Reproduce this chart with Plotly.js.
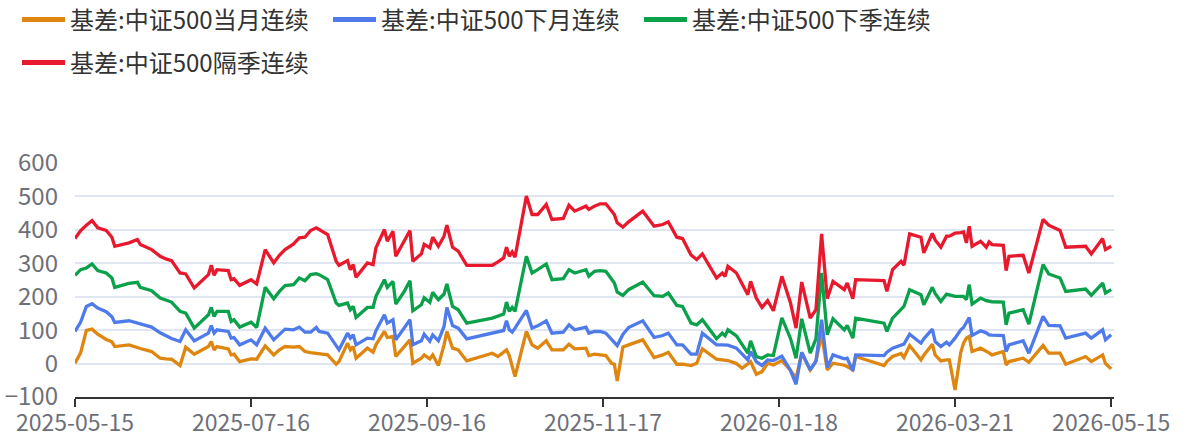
<!DOCTYPE html>
<html>
<head>
<meta charset="utf-8">
<script src="https://cdn.plot.ly/plotly-3.0.1.min.js"></script>
<style>html,body{margin:0;padding:0;background:#fff}#chart{width:1186px;height:438px}</style>
</head>
<body>
<div id="chart"></div>
<script>
var seriesNames = ['基差:中证500当月连续', '基差:中证500下月连续', '基差:中证500下季连续', '基差:中证500隔季连续'];
var seriesColors = ['#DE860F', '#4F7BEA', '#0AA14A', '#E8192D'];

var dates = [
'2025-05-15','2025-05-17','2025-05-19','2025-05-21','2025-05-23','2025-05-26','2025-05-28','2025-05-29','2025-06-03','2025-06-06',
'2025-06-07','2025-06-11','2025-06-14','2025-06-16','2025-06-18','2025-06-21','2025-06-23','2025-06-26','2025-07-01','2025-07-02',
'2025-07-03','2025-07-04','2025-07-08','2025-07-09','2025-07-10','2025-07-12','2025-07-16','2025-07-18','2025-07-21','2025-07-24',
'2025-07-26','2025-07-28','2025-07-31','2025-08-02','2025-08-04','2025-08-06','2025-08-08','2025-08-09','2025-08-12','2025-08-15',
'2025-08-16','2025-08-19','2025-08-20','2025-08-21','2025-08-22','2025-08-26','2025-08-28','2025-08-29','2025-09-01','2025-09-02',
'2025-09-04','2025-09-05','2025-09-08','2025-09-10','2025-09-11','2025-09-14','2025-09-15','2025-09-17','2025-09-18','2025-09-20',
'2025-09-22','2025-09-23','2025-09-25','2025-09-27','2025-09-30','2025-10-09','2025-10-11','2025-10-13','2025-10-14','2025-10-15',
'2025-10-16','2025-10-17','2025-10-21','2025-10-23','2025-10-25','2025-10-28','2025-10-30','2025-11-03','2025-11-05','2025-11-07',
'2025-11-11','2025-11-12','2025-11-14','2025-11-16','2025-11-18','2025-11-20','2025-11-21','2025-11-22','2025-11-24','2025-11-26',
'2025-12-01','2025-12-05','2025-12-08','2025-12-10','2025-12-13','2025-12-15','2025-12-18','2025-12-20','2025-12-22','2025-12-27',
'2025-12-29','2025-12-30','2025-12-31','2026-01-03','2026-01-05','2026-01-07','2026-01-08','2026-01-10','2026-01-12','2026-01-14',
'2026-01-16','2026-01-19','2026-01-22','2026-01-24','2026-01-26','2026-01-29','2026-01-31','2026-02-02','2026-02-04','2026-02-06',
'2026-02-10','2026-02-11','2026-02-13','2026-02-14','2026-02-24','2026-02-25','2026-02-27','2026-03-02','2026-03-03','2026-03-05',
'2026-03-09','2026-03-10','2026-03-13','2026-03-14','2026-03-16','2026-03-18','2026-03-19','2026-03-21','2026-03-23','2026-03-24',
'2026-03-25','2026-03-26','2026-03-27','2026-03-30','2026-04-01','2026-04-02','2026-04-03','2026-04-07','2026-04-08','2026-04-09',
'2026-04-14','2026-04-16','2026-04-21','2026-04-23','2026-04-27','2026-04-29','2026-05-06','2026-05-08','2026-05-12','2026-05-13',
'2026-05-15'
];

var basisCurrentMonth = [
1,33,99,103,88,72,65,51,56,46,
45,36,16,14,13,-6,49,28,51,66,
41,51,44,26,28,6,14,13,53,26,
41,51,49,51,36,33,30,28,26,-2,
6,61,41,51,16,46,34,56,96,78,
81,21,51,71,1,16,26,14,26,-6,
56,96,46,41,8,31,21,33,41,23,
-12,-39,96,56,46,68,41,41,58,44,
46,24,28,26,24,1,-2,-52,50,56,
71,18,26,34,-2,-2,-6,1,44,13,
11,10,9,0,-14,-1,6,-32,-24,1,
-4,9,-20,-44,31,-19,6,88,-19,1,
-5,-9,-19,21,-6,6,21,30,18,54,
11,25,58,26,8,11,11,-79,33,61,
76,81,36,46,38,32,26,36,-4,6,
16,4,54,31,31,-2,21,6,26,0,
-16
];

var basisNextMonth = [
96,124,171,179,166,155,140,123,128,121,
120,109,92,84,75,66,101,68,91,114,
91,101,96,76,78,56,71,56,106,71,
88,103,101,109,94,94,108,96,91,51,
41,91,76,86,56,76,74,98,146,121,
131,71,106,131,56,68,88,67,86,68,
111,168,114,106,74,92,95,99,128,101,
94,106,159,106,113,128,91,94,116,101,
109,91,96,96,91,71,62,54,87,108,
128,78,84,91,56,56,28,28,91,56,
56,56,55,46,28,11,36,6,-6,11,
9,22,-20,-62,34,-19,8,131,-12,26,
14,16,-22,26,24,34,46,54,58,88,
61,74,103,66,51,64,56,76,101,108,
123,138,84,98,92,86,85,84,36,56,
68,31,141,114,113,76,91,76,101,71,
86
];

var basisNextQuarter = [
264,281,286,298,278,271,256,228,240,243,
228,218,196,190,184,156,151,106,146,168,
141,156,156,126,131,109,124,108,228,194,
216,233,236,256,248,266,269,266,251,181,
174,181,161,171,138,168,168,201,251,228,
246,178,216,248,158,176,197,183,213,191,
208,238,171,161,121,136,141,148,184,156,
168,156,321,271,281,298,251,254,281,271,
281,261,276,278,276,251,241,214,204,221,
244,203,201,211,174,171,121,116,131,74,
91,83,101,83,56,31,68,21,16,26,
24,137,76,16,134,31,74,271,86,134,
101,114,76,136,121,96,136,160,171,221,
206,176,228,210,186,208,205,201,201,201,
191,236,178,196,188,186,185,184,116,151,
161,118,296,268,256,216,223,204,241,211,
221
];

var basisNextNextQuarter = [
374,398,414,428,406,398,378,351,361,371,
356,341,321,313,308,271,268,226,266,294,
264,281,278,251,254,234,251,238,341,301,
324,341,358,376,378,398,406,401,386,306,
294,308,281,296,258,301,296,346,401,366,
396,321,366,398,306,328,357,346,378,351,
381,414,348,336,294,294,304,316,348,321,
334,318,501,446,446,476,431,434,474,456,
471,461,471,478,478,454,446,421,408,424,
456,411,416,424,378,374,325,311,328,256,
271,261,291,271,241,206,246,196,168,188,
158,261,183,106,244,136,161,388,194,246,
221,241,194,251,248,216,281,306,294,388,
378,331,389,370,348,381,381,390,392,394,
361,411,351,366,348,364,356,354,278,321,
324,271,431,414,398,348,351,328,374,341,
351
];

var tickDates = ['2025-05-15','2025-07-16','2025-09-16','2025-11-17','2026-01-18','2026-03-21','2026-05-15'];

var seriesValues = [basisCurrentMonth, basisNextMonth, basisNextQuarter, basisNextNextQuarter];
var legendIds = ['legend', 'legend2', 'legend3', 'legend4'];

var traces = [];
for (var i = 0; i < 4; i++) {
  traces.push({
    type: 'scatter', mode: 'lines', x: dates, y: seriesValues[i],
    name: seriesNames[i], showlegend: false,
    line: {color: seriesColors[i], width: 3.3},
    hoverinfo: 'x+y+name'
  });
}
for (var j = 0; j < 4; j++) {
  traces.push({
    type: 'scatter', mode: 'lines', x: [null], y: [null],
    name: seriesNames[j], showlegend: true, legend: legendIds[j],
    line: {color: seriesColors[j], width: 5}, hoverinfo: 'skip'
  });
}

var FONT = '"Noto Sans CJK SC", "Microsoft YaHei", sans-serif';
function legendAt(xpx, ypx) {
  return {
    xref: 'container', yref: 'container',
    x: xpx / 1186, y: 1 - ypx / 438, xanchor: 'left', yanchor: 'middle',
    orientation: 'h', bgcolor: 'rgba(0,0,0,0)', borderwidth: 0,
    itemwidth: 43,
    font: {family: FONT, size: 24, color: '#333333'}
  };
}

var layout = {
  width: 1186, height: 438,
  margin: {l: 75, r: 72, t: 163, b: 41, pad: 0},
  paper_bgcolor: '#ffffff', plot_bgcolor: '#ffffff',
  font: {family: FONT, color: '#6E7079'},
  legend: legendAt(17, 20),
  legend2: legendAt(328, 20),
  legend3: legendAt(639, 20),
  legend4: legendAt(17, 63),
  xaxis: {
    type: 'date', range: ['2025-05-15', '2026-05-16'],
    tickmode: 'array', tickvals: tickDates, ticktext: tickDates,
    showgrid: false, zeroline: false,
    showline: true, linecolor: '#333333', linewidth: 2,
    ticks: 'outside', ticklen: 8, tickwidth: 2, tickcolor: '#333333',
    ticklabelstandoff: -4,
    tickfont: {family: FONT, size: 23, color: '#6E7079'},
    fixedrange: true
  },
  yaxis: {
    range: [-100, 600], tickmode: 'linear', tick0: -100, dtick: 100,
    showgrid: true, gridcolor: '#E0E6F1', gridwidth: 1.5,
    zeroline: false, showline: false, ticks: '',
    ticklabelstandoff: 16,
    tickfont: {family: FONT, size: 24, color: '#6E7079'},
    fixedrange: true
  },
  hovermode: 'x'
};

Plotly.newPlot('chart', traces, layout, {displayModeBar: false, staticPlot: false});
</script>
</body>
</html>
